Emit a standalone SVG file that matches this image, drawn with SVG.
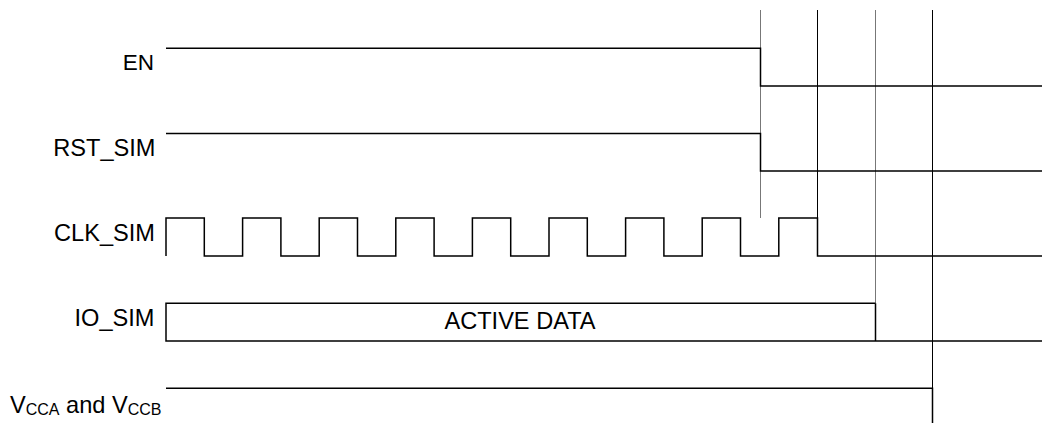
<svg xmlns="http://www.w3.org/2000/svg" width="1042" height="423" viewBox="0 0 1042 423">
  <style>
    .sig { fill: none; stroke: #000; stroke-width: 1.5; stroke-linejoin: miter; }
    .guide { fill: none; stroke: #000; stroke-width: 1; }
    .guide-g { fill: none; stroke: #777; stroke-width: 1; }
    .lbl { font-family: "Liberation Sans", Arial, sans-serif; font-size: 23.6px; fill: #000; }
    .sub { font-size: 16px; }
  </style>
  <rect width="1042" height="423" fill="#fff"/>
  <g id="guides">
    <line class="guide-g" x1="760.5" y1="10" x2="760.5" y2="218"/>
    <line class="guide" x1="817.5" y1="10" x2="817.5" y2="218"/>
    <line class="guide-g" x1="875.5" y1="10" x2="875.5" y2="303"/>
    <line class="guide" x1="932.5" y1="10" x2="932.5" y2="423"/>
  </g>
  <g id="EN">
    <text class="lbl" x="154" y="70" text-anchor="end" style="font-size:22.5px">EN</text>
    <path class="sig" d="M166,48.3 H760.5 V86 H1042"/>
  </g>
  <g id="RST_SIM">
    <text class="lbl" x="155.5" y="156" text-anchor="end">RST_SIM</text>
    <path class="sig" d="M166,133.5 H760.5 V171 H1042"/>
  </g>
  <g id="CLK_SIM">
    <text class="lbl" x="155" y="241" text-anchor="end">CLK_SIM</text>
    <path class="sig" d="M166,256 V218 H204.3 V256 H242.6 V218 H280.9 V256 H319.2 V218 H357.5 V256 H395.8 V218 H434.1 V256 H472.4 V218 H510.7 V256 H549 V218 H587.3 V256 H625.6 V218 H663.9 V256 H702.2 V218 H740.5 V256 H778.8 V218 H817.5 V256 H1042"/>
  </g>
  <g id="IO_SIM">
    <text class="lbl" x="154.5" y="326" text-anchor="end">IO_SIM</text>
    <path class="sig" d="M875.5,303.3 H166 V341 H1042 M875.5,303.3 V341"/>
    <text class="lbl" x="520" y="329" text-anchor="middle">ACTIVE DATA</text>
  </g>
  <g id="VCC">
    <text class="lbl" x="10" y="412.5">V<tspan class="sub" dy="2">CCA</tspan><tspan dy="-2"> and V</tspan><tspan class="sub" dy="2">CCB</tspan></text>
    <path class="sig" d="M166,388.3 H932.5 V423"/>
  </g>
</svg>
